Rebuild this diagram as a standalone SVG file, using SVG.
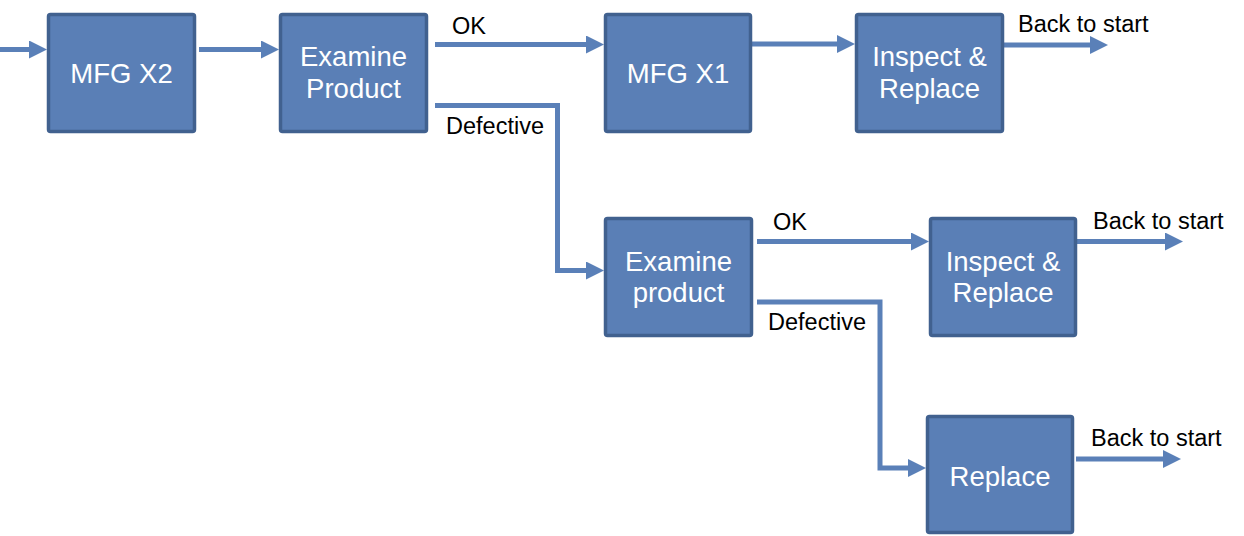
<svg xmlns="http://www.w3.org/2000/svg" width="1244" height="536" viewBox="0 0 1244 536">
<style>
.box{fill:#5a7fb6;stroke:#41618f;stroke-width:3.5}
.bt{fill:#ffffff;font-family:"Liberation Sans",Arial,sans-serif;font-size:27.5px;text-anchor:middle}
.lbl{fill:#000000;font-family:"Liberation Sans",Arial,sans-serif;font-size:23.5px}
.con{fill:none;stroke:#5a80b8;stroke-width:5;stroke-linejoin:miter}
</style>
<defs>
<marker id="ah" markerUnits="userSpaceOnUse" markerWidth="18" markerHeight="18" refX="1" refY="9" orient="auto" viewBox="0 0 18 18">
<path d="M0,0 L18,9 L0,18 z" fill="#5a80b8"/>
</marker>
</defs>
<rect width="1244" height="536" fill="#ffffff"/>
<g id="connectors">
<path class="con" d="M0,49.5 H30" marker-end="url(#ah)"/>
<path class="con" d="M199,49.5 H262" marker-end="url(#ah)"/>
<path class="con" d="M435,44.5 H587" marker-end="url(#ah)"/>
<path class="con" d="M435,105.5 H557.5 V270.5 H587" marker-end="url(#ah)"/>
<path class="con" d="M752,44 H838" marker-end="url(#ah)"/>
<path class="con" d="M1004,45 H1091" marker-end="url(#ah)"/>
<path class="con" d="M757,241.5 H912" marker-end="url(#ah)"/>
<path class="con" d="M757,302 H880 V468 H909" marker-end="url(#ah)"/>
<path class="con" d="M1077,241.5 H1166" marker-end="url(#ah)"/>
<path class="con" d="M1076,459 H1164" marker-end="url(#ah)"/>
<text class="lbl" x="452" y="33.5">OK</text>
<text class="lbl" x="446" y="134">Defective</text>
<text class="lbl" x="1018" y="31.5">Back to start</text>
<text class="lbl" x="773" y="229.5">OK</text>
<text class="lbl" x="768" y="330">Defective</text>
<text class="lbl" x="1093" y="229">Back to start</text>
<text class="lbl" x="1091" y="445.5">Back to start</text>
</g>
<g id="mfg-x2">
<rect class="box" x="48.5" y="14.5" width="146" height="117" rx="2"/>
<text class="bt" x="121.5" y="83">MFG X2</text>
</g>
<g id="examine-product-1">
<rect class="box" x="280.5" y="14.5" width="146" height="117" rx="2"/>
<text class="bt" x="353.5" y="66">Examine</text>
<text class="bt" x="353.5" y="98">Product</text>
</g>
<g id="mfg-x1">
<rect class="box" x="605.5" y="14.5" width="145" height="117" rx="2"/>
<text class="bt" x="678" y="83">MFG X1</text>
</g>
<g id="inspect-replace-1">
<rect class="box" x="856.5" y="14.5" width="146" height="117" rx="2"/>
<text class="bt" x="929.5" y="66">Inspect &amp;</text>
<text class="bt" x="929.5" y="98">Replace</text>
</g>
<g id="examine-product-2">
<rect class="box" x="605.5" y="218.5" width="146" height="117" rx="2"/>
<text class="bt" x="678.5" y="270.5">Examine</text>
<text class="bt" x="678.5" y="302">product</text>
</g>
<g id="inspect-replace-2">
<rect class="box" x="930.5" y="218.5" width="145" height="117" rx="2"/>
<text class="bt" x="1003" y="270.5">Inspect &amp;</text>
<text class="bt" x="1003" y="302">Replace</text>
</g>
<g id="replace">
<rect class="box" x="927.5" y="416.5" width="145" height="116" rx="2"/>
<text class="bt" x="1000" y="486">Replace</text>
</g>
</svg>
